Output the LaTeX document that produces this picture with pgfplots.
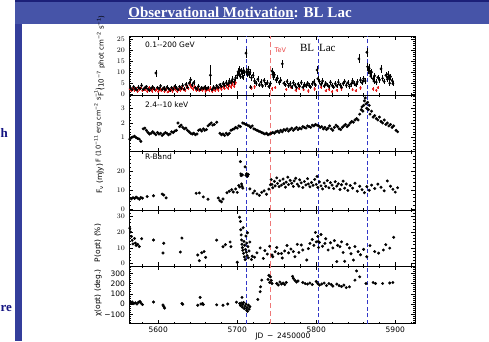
\documentclass[border=0pt]{standalone}
\usepackage{pgfplots}
\usepackage{pgfplotstable}
\pgfplotsset{compat=1.18}
\usepackage{fontspec}
\setmainfont{Liberation Serif}
\newfontfamily\plotfont{DejaVu Sans}
\definecolor{band}{RGB}{70,84,168}
\definecolor{bandtop}{RGB}{28,32,120}
\definecolor{sidebar}{RGB}{52,62,155}
\definecolor{dblue}{RGB}{50,55,200}
\definecolor{tevred}{RGB}{238,120,120}
\definecolor{txtblue}{RGB}{20,20,130}
\definecolor{ptred}{RGB}{230,25,25}

\pgfplotstableread{
x y e
5565 2.8 0.8
5567 2.1 0.7
5569 3.4 0.9
5571 2.5 0.8
5573 1.9 0.7
5575 3.1 0.9
5577 2.6 0.8
5579 4.0 1.0
5581 2.2 0.8
5583 2.9 0.8
5585 3.5 0.9
5587 2.4 0.8
5589 1.8 0.7
5591 2.7 0.8
5593 3.3 0.9
5595 2.3 0.8
5597 9.6 1.6
5599 3.0 0.9
5601 2.5 0.8
5603 3.8 1.0
5605 2.2 0.8
5607 2.9 0.8
5609 2.0 0.7
5611 3.2 0.9
5613 2.6 0.8
5615 1.9 0.7
5617 3.0 0.8
5619 2.4 0.8
5621 3.6 1.0
5623 2.8 0.8
5625 2.1 0.7
5627 3.4 0.9
5629 2.7 0.8
5631 3.9 1.0
5633 2.3 0.8
5635 4.4 1.1
5637 3.1 0.9
5639 5.0 1.2
5641 6.6 1.3
5643 4.2 1.0
5645 5.3 1.2
5647 3.0 0.9
5649 2.5 0.8
5651 3.6 0.9
5653 2.2 0.8
5655 3.0 0.9
5657 2.6 0.8
5659 3.3 0.9
5661 2.4 0.8
5663 2.9 0.8
5666 8.6 4.5
5668 2.1 0.8
5670 3.2 0.9
5672 2.7 0.8
5674 3.8 1.0
5676 3.0 0.9
5678 4.3 1.0
5680 3.5 0.9
5682 4.8 1.1
5684 3.9 1.0
5686 5.2 1.1
5688 4.5 1.0
5690 6.0 1.2
5692 5.3 1.1
5694 6.8 1.3
5696 5.6 1.2
5698 7.4 1.3
5700 8.5 1.4
5701 10.2 1.5
5702 9.0 1.4
5703 11.0 1.6
5704 8.0 1.3
5705 10.5 1.5
5706 9.4 1.4
5707 7.6 1.3
5708 10.8 1.5
5709 9.8 1.4
5711 18.6 2.0
5712 10.4 1.5
5713 9.2 1.4
5714 11.2 1.5
5715 8.8 1.4
5716 10.0 1.5
5717 3.2 1.0
5718 7.5 1.3
5720 8.6 1.4
5722 6.0 1.2
5724 5.0 1.1
5726 6.8 1.3
5728 4.2 1.0
5730 5.5 1.2
5732 3.8 1.0
5734 6.2 1.2
5736 4.6 1.1
5738 5.2 1.1
5740 3.5 1.0
5742 4.9 1.1
5744 10.5 1.6
5745 9.0 1.5
5746 7.8 1.4
5747 8.8 1.4
5749 6.5 1.3
5751 7.2 1.3
5753 5.4 1.2
5755 6.3 1.3
5757 13.8 1.9
5759 5.0 1.1
5761 4.3 1.0
5763 5.8 1.2
5765 3.9 1.0
5767 4.8 1.1
5769 3.4 0.9
5771 5.2 1.1
5773 4.1 1.0
5775 3.0 0.9
5777 4.6 1.1
5779 3.6 1.0
5781 5.3 1.1
5783 3.2 0.9
5785 4.4 1.0
5787 3.8 1.0
5789 5.0 1.1
5791 4.0 1.0
5793 3.3 0.9
5795 4.7 1.1
5797 5.6 1.2
5799 4.2 1.0
5801 11.0 1.6
5802 7.0 1.3
5804 5.8 1.2
5806 4.5 1.0
5808 6.0 1.2
5810 3.7 1.0
5812 5.0 1.1
5814 4.2 1.0
5816 3.5 0.9
5818 5.4 1.1
5820 4.0 1.0
5822 3.2 0.9
5824 4.8 1.1
5826 3.8 1.0
5828 5.5 1.2
5830 4.3 1.0
5832 3.1 0.9
5834 4.9 1.1
5836 5.8 1.2
5838 4.0 1.0
5840 5.2 1.1
5842 3.6 1.0
5844 4.6 1.1
5846 6.0 1.2
5848 5.0 1.1
5850 4.2 1.0
5852 5.6 1.2
5854 16.0 2.0
5856 6.4 1.3
5858 5.2 1.1
5860 7.0 1.3
5862 6.0 1.2
5864 19.0 2.1
5865 12.5 1.7
5866 10.8 1.6
5867 11.8 1.7
5868 9.6 1.5
5869 8.2 1.4
5870 10.0 1.5
5872 7.0 1.3
5873 6.0 1.2
5874 8.4 1.4
5876 5.5 1.2
5878 7.6 1.3
5880 6.5 1.3
5882 11.5 1.7
5884 7.2 1.3
5886 5.8 1.2
5888 8.6 1.4
5890 6.8 1.3
5891 9.0 1.4
5892 7.5 1.3
5893 5.0 1.1
5894 8.0 1.4
5896 6.2 1.2
5897 4.8 1.1
}\gammablack

\pgfplotstableread{
x y e
5564 2.4 0.8
5566 1.6 0.7
5568 2.9 0.8
5570 1.9 0.7
5572 2.6 0.8
5574 1.4 0.7
5576 2.2 0.7
5578 3.0 0.8
5580 1.7 0.7
5582 2.5 0.8
5584 2.0 0.7
5586 1.3 0.6
5588 2.8 0.8
5590 2.1 0.7
5592 1.5 0.7
5594 2.6 0.8
5596 1.9 0.7
5598 2.3 0.7
5600 1.2 0.6
5602 2.0 0.7
5604 1.6 0.7
5606 2.7 0.8
5608 1.4 0.7
5610 2.2 0.7
5612 1.0 0.6
5614 1.8 0.7
5616 2.4 0.8
5618 1.5 0.7
5620 2.9 0.8
5622 2.0 0.7
5624 1.3 0.6
5626 2.5 0.8
5628 1.8 0.7
5630 3.2 0.8
5632 2.2 0.7
5634 1.7 0.7
5636 3.5 0.9
5638 2.6 0.8
5640 4.2 0.9
5642 3.0 0.8
5644 2.4 0.8
5646 3.6 0.9
5648 1.9 0.7
5650 2.7 0.8
5652 1.6 0.7
5654 2.3 0.7
5656 1.8 0.7
5658 2.9 0.8
5660 1.5 0.7
5662 2.4 0.8
5664 1.9 0.7
5666 2.8 0.8
5668 1.4 0.7
5670 2.1 0.7
5672 1.7 0.7
5674 2.6 0.8
5676 1.9 0.7
5678 3.0 0.8
5680 2.3 0.7
5682 3.4 0.9
5684 2.6 0.8
5686 3.9 0.9
5688 2.8 0.8
5690 4.1 0.9
5692 3.2 0.8
5694 4.6 1.0
5696 3.6 0.9
5698 5.2 1.0
5718 2.8 0.8
5722 3.4 0.9
5744 2.5 0.8
5748 3.0 0.8
5762 2.2 0.7
5768 3.1 0.8
5774 1.8 0.7
5778 2.6 0.8
5784 2.0 0.7
5790 1.5 0.7
5798 2.4 0.8
5806 3.2 0.8
5812 1.6 0.7
5816 2.2 0.7
5820 1.2 0.6
5826 1.8 0.7
5832 2.5 0.8
5846 2.0 0.7
5850 1.6 0.7
5856 2.9 0.8
5872 2.4 0.8
5876 1.8 0.7
5878 3.0 0.8
}\gammared

\pgfplotstableread{
x y
5562 0.85
5564 0.9
5566 1.0
5568 1.05
5570 1.1
5572 1.0
5574 0.95
5576 0.9
5578 0.75
5581 1.6
5583 1.65
5585 1.5
5587 1.35
5589 1.25
5591 1.3
5593 1.4
5595 1.3
5597 1.2
5599 1.35
5601 1.25
5603 1.3
5605 1.15
5607 1.25
5609 1.35
5611 1.3
5613 1.2
5615 1.25
5617 1.4
5619 1.35
5621 1.45
5623 1.5
5625 2.0
5627 1.75
5629 1.85
5631 1.7
5633 1.6
5635 1.65
5637 1.5
5639 1.4
5641 1.3
5643 1.25
5645 1.3
5647 1.2
5649 1.25
5651 1.5
5653 1.55
5655 1.45
5657 1.6
5659 1.5
5661 1.55
5663 1.8
5665 1.9
5667 2.0
5669 1.85
5671 1.9
5674 2.05
5678 1.3
5680 1.2
5682 1.25
5684 1.15
5686 1.3
5688 1.2
5690 1.3
5692 1.5
5694 1.55
5696 1.6
5698 1.7
5700 1.65
5702 1.8
5704 1.75
5707 2.0
5709 1.95
5711 1.9
5713 1.85
5715 1.8
5717 1.7
5719 1.8
5721 1.6
5723 1.55
5725 1.5
5727 1.45
5729 1.4
5731 1.35
5733 1.3
5735 1.25
5737 1.3
5739 1.2
5741 1.25
5743 1.3
5745 1.35
5747 1.3
5749 1.4
5751 1.45
5753 1.35
5755 1.5
5757 1.4
5759 1.55
5761 1.5
5763 1.6
5765 1.45
5767 1.55
5769 1.65
5771 1.5
5773 1.6
5775 1.7
5777 1.55
5779 1.65
5781 1.6
5783 1.75
5785 1.7
5787 1.65
5789 1.8
5791 1.75
5793 1.7
5795 1.85
5797 1.8
5799 1.9
5801 1.85
5803 1.8
5805 1.7
5807 1.75
5809 1.6
5811 1.7
5813 1.55
5815 1.65
5817 1.8
5819 1.6
5821 1.5
5823 1.7
5825 1.85
5827 1.75
5829 1.6
5831 1.55
5833 1.7
5835 1.8
5837 1.9
5839 1.75
5841 1.85
5843 2.0
5845 2.1
5847 2.05
5849 2.2
5851 2.3
5853 2.2
5855 2.6
5857 2.9
5858 3.1
5859 2.8
5860 3.2
5861 3.5
5862 3.7
5863 3.3
5864 3.0
5865 3.4
5866 2.9
5867 3.2
5868 2.6
5870 2.8
5872 2.4
5874 2.5
5876 2.3
5878 2.2
5880 2.4
5882 2.1
5884 2.0
5886 2.2
5888 1.9
5890 2.0
5892 1.8
5894 1.9
5896 1.7
5898 1.8
5901 1.5
5903 1.4
}\xray

\pgfplotstableread{
x y
5566 5.4
5568 6.0
5570 5.6
5572 6.3
5574 5.8
5576 5.2
5578 6.1
5580 5.7
5586 6.6
5594 7.0
5605 7.9
5607 7.4
5610 5.9
5648 8.3
5652 8.5
5657 6.4
5663 5.2
5676 5.8
5678 4.4
5680 3.8
5682 5.3
5687 8.6
5690 9.4
5693 10.2
5695 9.0
5698 10.6
5700 8.8
5702 12.4
5703 11.6
5704 25.0
5704.5 18.5
5705 17.6
5705.5 13.2
5706 12.0
5706.5 18.0
5707 11.0
5710 22.2
5711 17.8
5712 18.6
5713 17.2
5714 18.2
5716 10.6
5720 8.4
5722 9.5
5725 8.0
5728 7.2
5731 8.8
5734 9.6
5737 7.8
5740 10.5
5742 12.8
5743 15.5
5744 13.0
5745 11.2
5747 14.6
5748 12.2
5750 16.4
5751 13.5
5753 11.8
5754 14.9
5756 12.6
5758 15.8
5759 13.4
5761 11.5
5762 14.2
5764 16.8
5765 12.9
5767 15.1
5769 13.6
5771 11.9
5772 14.8
5774 16.2
5776 13.1
5778 12.0
5779 15.4
5781 13.8
5783 11.3
5785 14.5
5787 12.7
5789 16.0
5790 13.2
5792 11.7
5794 14.0
5796 12.5
5798 15.6
5800 13.0
5801 17.2
5802 11.4
5804 14.3
5806 12.2
5808 10.6
5810 13.7
5812 12.0
5814 15.0
5816 11.2
5818 13.9
5820 12.6
5822 10.8
5824 14.4
5826 12.1
5828 13.3
5830 10.3
5832 12.8
5834 14.7
5836 11.0
5838 13.2
5840 9.8
5843 12.4
5846 11.0
5849 13.6
5852 9.4
5855 12.0
5858 10.2
5861 8.6
5864 11.8
5867 9.9
5870 12.6
5874 10.8
5878 13.1
5882 11.5
5886 9.6
5890 14.8
5894 12.0
5897 10.4
5900 8.9
5903 11.2
}\rband

\pgfplotstableread{
x y
5564 22.5
5565 20.1
5566 17.3
5567 14.8
5568 12.5
5570 16.0
5571 13.0
5572 11.5
5574 12.2
5576 10.8
5579 15.8
5594 15.0
5606 6.7
5607 12.9
5628 7.3
5630 16.2
5650 5.4
5652 1.8
5655 6.8
5658 7.6
5660 3.9
5674 14.9
5682 10.7
5685 12.0
5691 13.7
5692 10.7
5700 0.8
5703 29.5
5704 26.8
5704.5 21.5
5705 18.2
5705.5 15.0
5706 12.3
5706.5 10.1
5707 8.4
5707.5 22.8
5708 6.5
5708.5 14.1
5709 4.2
5709.5 11.6
5710 2.5
5710.5 9.0
5711 17.5
5711.5 7.2
5712 13.0
5712.5 5.1
5713 19.6
5713.5 10.8
5714 3.6
5715 8.0
5716 13.7
5718 2.5
5719 4.6
5722 4.0
5725 6.8
5729 9.9
5733 3.2
5735 8.2
5738 6.0
5741 11.0
5744 5.4
5745 4.3
5748 7.5
5750 10.2
5752 6.3
5756 6.4
5757 3.5
5760 8.0
5763 11.5
5765 6.8
5768 9.2
5771 7.6
5773 4.3
5776 12.2
5778 7.0
5781 11.8
5783 8.6
5788 2.2
5790 9.5
5792 12.8
5795 15.3
5797 11.6
5799 19.8
5800 13.8
5802 17.3
5802.5 14.0
5803 10.2
5804 13.5
5806 18.5
5808 11.0
5811 12.8
5812 15.8
5815 8.6
5818 13.2
5821 9.9
5823 14.6
5826 1.2
5827 11.6
5830 10.7
5832 13.8
5834 7.0
5836 1.4
5839 12.2
5842 9.9
5844 6.2
5847 2.2
5849 10.8
5853 7.6
5856 5.6
5860 9.0
5864 4.3
5868 11.4
5874 7.6
5879 6.6
5885 8.6
5888 12.0
5893 9.8
5898 16.7
}\popt

\pgfplotstableread{
x y
5565 15
5566 8
5567 20
5569 5
5571 12
5573 0
5575 18
5577 25
5578 10
5580 -5
5594 20
5606 -10
5607 -25
5608 -40
5630 5
5631 -3
5650 -12
5653 65
5654 0
5656 5
5657 -5
5674 -8
5682 -12
5688 0
5699 18
5703 5
5704 -15
5705 10
5706 65
5706.5 -30
5707 -5
5708 15
5709 -45
5710 -20
5711 0
5712 -60
5712.5 -35
5713 -70
5714 -10
5715 -50
5716 -25
5726 45
5729 120
5729.5 168
5731 233
5739 240
5740 280
5741 210
5742 265
5743 230
5744 200
5750 200
5752 185
5754 215
5756 195
5758 205
5760 190
5762 210
5770 270
5771 250
5773 230
5775 215
5777 225
5783 210
5786 200
5789 195
5792 205
5795 190
5800 220
5802 200
5804 185
5807 195
5810 205
5813 180
5816 200
5819 190
5821 175
5826 195
5829 180
5832 170
5835 185
5838 160
5842 168
5849 233
5851 323
5855 265
5863 200
5872 210
5875 200
5884 200
5893 205
5897 210
}\chiopt

\pgfplotsset{
  panel/.style={
    scale only axis, width=286pt,
    anchor=north west,
    xmin=5563, xmax=5925,
    xtick={5600,5700,5800,5900},
    minor xtick={5580,5620,5640,5660,5680,5720,5740,5760,5780,5820,5840,5860,5880,5920},
    xticklabels={},
    tick align=inside,
    major tick length=4pt, minor tick length=2pt,
    every tick/.style={black, line width=0.5pt},
    axis line style={line width=0.6pt},
    tick label style={font=\plotfont\fontsize{7.5}{8}\selectfont},
    yticklabel style={xshift=-0.5pt},
  },
  dots/.style={only marks, mark=*, mark size=1.3pt, black},
}
\newcommand{\vlines}[2]{%
  \addplot[dblue, line width=0.5pt, dash pattern=on 4pt off 2.5pt] coordinates {(5711,#1) (5711,#2)};
  \addplot[tevred, line width=1.3pt, dash pattern=on 5pt off 3pt] coordinates {(5742,#1) (5742,#2)};
  \addplot[dblue, line width=0.5pt, dash pattern=on 4pt off 2.5pt] coordinates {(5802,#1) (5802,#2)};
  \addplot[dblue, line width=0.5pt, dash pattern=on 4pt off 2.5pt] coordinates {(5864,#1) (5864,#2)};
}
\newcommand{\pf}{\plotfont\fontsize{7.5}{8}\selectfont}

\begin{document}
\begin{tikzpicture}[x=1pt,y=1pt]
\useasboundingbox (0,0) rectangle (489,341);
\clip (0,0) rectangle (489,341);
\fill[white] (0,0) rectangle (489,341);
% slide decoration
\fill[sidebar] (15,0) rectangle (22,341);
\fill[band] (15,317) rectangle (489,340);
\fill[bandtop] (15,339) rectangle (489,341);
\node[text=white, font=\bfseries\fontsize{15}{16}\selectfont] at (240,328) {\underline{Observational Motivation}: BL Lac};
\node[anchor=west, text=txtblue, font=\bfseries\fontsize{13}{14}\selectfont, inner sep=0pt] at (0.5,208) {h};
\node[anchor=west, text=txtblue, font=\bfseries\fontsize{13}{14}\selectfont, inner sep=0pt] at (0.5,33) {re};

% panel 1: gamma
\begin{axis}[panel, at={(129pt,305pt)}, height=59pt,
  ymin=-0.32, ymax=26.36,
  ytick={0,5,10,15,20,25},
  minor ytick={1,2,3,4,6,7,8,9,11,12,13,14,16,17,18,19,21,22,23,24,26},
]
\vlines{-0.32}{26.36}
\addplot[ptred, only marks, mark=*, mark size=0.9pt,
  error bars/.cd, y dir=both, y explicit, error mark=none, error bar style={ptred, line width=0.4pt}]
  table[x=x, y=y, y error=e] {\gammared};
\addplot[dots, mark size=1.2pt,
  error bars/.cd, y dir=both, y explicit, error mark=none, error bar style={black, line width=0.5pt}]
  table[x=x, y=y, y error=e] {\gammablack};
\node[anchor=west, font=\pf] at (axis cs:5579,22.3) {0.1--200 GeV};
\node[anchor=west, text=ptred!80, font=\plotfont\fontsize{6.5}{7}\selectfont] at (axis cs:5743,20.0) {TeV};
\node[font=\fontsize{11}{12}\selectfont] at (axis cs:5802,20.9) {BL\hspace{0.45em}Lac};
\end{axis}

% panel 2: X-ray
\begin{axis}[panel, at={(129pt,246pt)}, height=56.5pt,
  ymin=0.06, ymax=3.9,
  ytick={1,2,3},
  minor ytick={0.2,0.4,0.6,0.8,1.2,1.4,1.6,1.8,2.2,2.4,2.6,2.8,3.2,3.4,3.6,3.8},
]
\vlines{0.06}{3.9}
\addplot[dots] table[x=x, y=y] {\xray};
\node[anchor=west, font=\pf] at (axis cs:5579,3.22) {2.4--10 keV};
\end{axis}

% panel 3: R band
\begin{axis}[panel, at={(129pt,189.5pt)}, height=58.5pt,
  ymin=-0.5, ymax=30.3,
  ytick={0,10,20},
  minor ytick={2,4,6,8,12,14,16,18,22,24,26,28},
]
\vlines{-0.5}{30.3}
\addplot[dots] table[x=x, y=y] {\rband};
\node[anchor=west, font=\pf] at (axis cs:5579,27.4) {R-Band};
\end{axis}

% panel 4: P(opt)
\begin{axis}[panel, at={(129pt,131pt)}, height=56pt,
  ymin=-1.6, ymax=34.1,
  ytick={0,10,20,30},
  minor ytick={2,4,6,8,12,14,16,18,22,24,26,28,32,34},
]
\vlines{-1.6}{34.1}
\addplot[dots] table[x=x, y=y] {\popt};
\end{axis}

% panel 5: chi(opt)
\begin{axis}[panel, at={(129pt,75pt)}, height=57.5pt,
  ymin=-190, ymax=371,
  ytick={-100,0,100,200,300},
  yticklabels={−100,0,100,200,300},
  minor ytick={-180,-160,-140,-120,-80,-60,-40,-20,20,40,60,80,120,140,160,180,220,240,260,280,320,340,360},
  xticklabels={5600,5700,5800,5900},
]
\vlines{-190}{371}
\addplot[dots] table[x=x, y=y] {\chiopt};
\end{axis}

% axis labels
\node[rotate=90, font=\plotfont\fontsize{7}{8}\selectfont] at (101,285) {F (10\textsuperscript{−7} phot cm\textsuperscript{−2} s\textsuperscript{−1})};
\node[rotate=90, font=\plotfont\fontsize{6.6}{7}\selectfont] at (98,216) {F (10\textsuperscript{−11} erg cm\textsuperscript{−2} s\textsuperscript{−1})};
\node[rotate=90, font=\pf] at (100,162) {F\textsubscript{ν} (mJy)};
\node[rotate=90, font=\pf] at (98,98) {P(opt) (\%)};
\node[rotate=90, font=\pf] at (98,48) {χ(opt) (deg.)};
\node[font=\pf] at (283,4.5) {JD\, − \,2450000};
\end{tikzpicture}
\end{document}
